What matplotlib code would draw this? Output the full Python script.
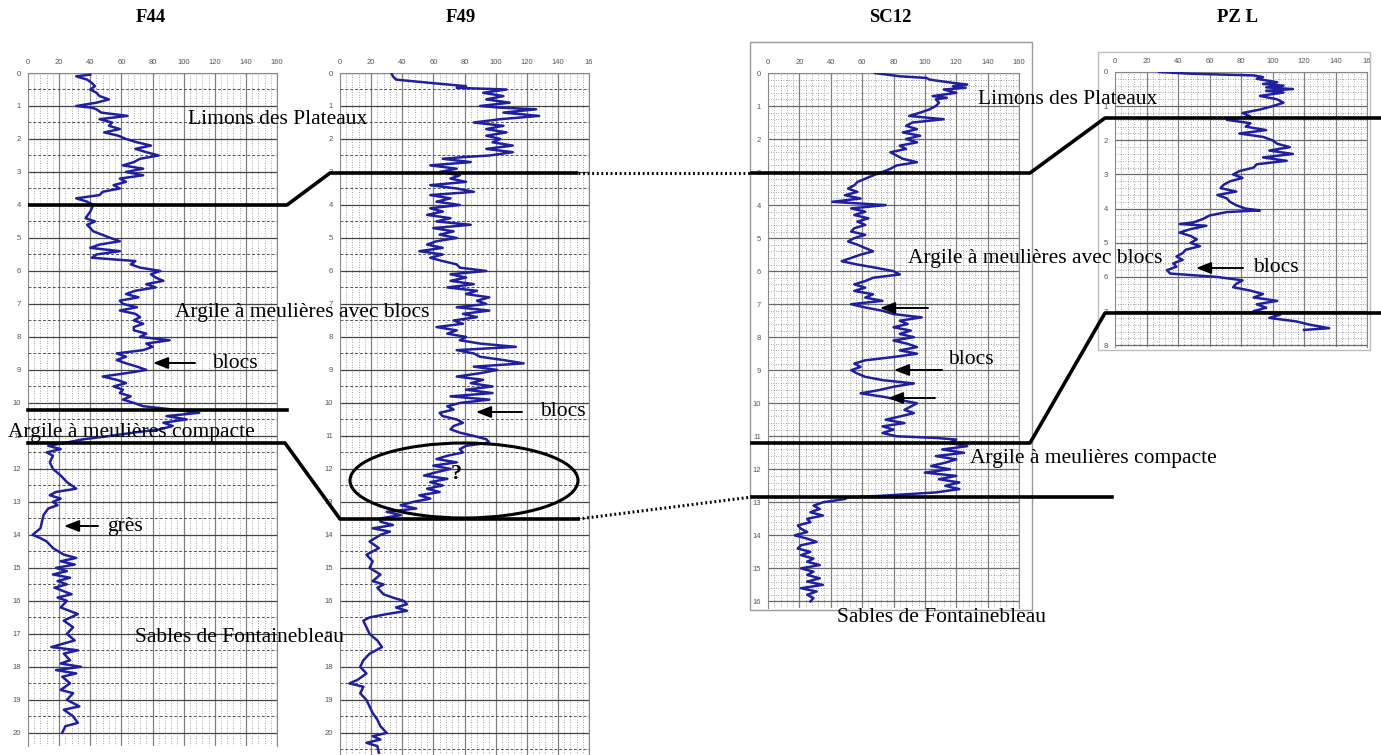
import matplotlib
matplotlib.use('Agg')
import matplotlib.pyplot as plt
from matplotlib.patches import Ellipse, Rectangle

# ---------------- DATA ----------------
f44_depth = [0.05, 0.1, 0.2, 0.3, 0.4, 0.5, 0.6, 0.7, 0.8, 0.9, 1.0, 1.05, 1.1, 1.2, 1.3, 1.4, 1.5, 1.6, 1.7, 1.8, 1.9,
             2.0, 2.1, 2.2, 2.3, 2.4, 2.5, 2.6, 2.7, 2.8, 2.9, 3.0, 3.1, 3.2, 3.3, 3.4, 3.5, 3.6, 3.7, 3.8, 3.9,
             4.0, 4.2, 4.4, 4.5, 4.6, 4.8, 5.0, 5.1, 5.2, 5.3, 5.4, 5.5, 5.6, 5.7, 5.8, 5.9,
             6.0, 6.1, 6.2, 6.3, 6.4, 6.5, 6.6, 6.7, 6.8, 6.9, 7.0, 7.1, 7.2, 7.3, 7.4, 7.5, 7.6, 7.7, 7.8, 7.9,
             8.0, 8.1, 8.2, 8.3, 8.4, 8.5, 8.6, 8.7, 8.8, 8.9, 9.0, 9.1, 9.2, 9.3, 9.4, 9.5, 9.6, 9.7, 9.8, 9.9,
             10.0, 10.1, 10.2, 10.3, 10.4, 10.5, 10.6, 10.7, 10.8, 10.9, 11.0, 11.1, 11.2, 11.3, 11.4, 11.5, 11.6, 11.8,
             12.0, 12.2, 12.4, 12.6, 12.7, 12.8, 12.9, 13.0, 13.1, 13.2, 13.4, 13.6, 13.8, 14.0, 14.1, 14.2, 14.4,
             14.6, 14.7, 14.8, 14.9, 15.0, 15.1, 15.2, 15.3, 15.4, 15.5, 15.6, 15.8, 15.9, 16.0, 16.2, 16.4, 16.6,
             16.8, 17.0, 17.2, 17.4, 17.5, 17.6, 17.8, 17.9, 18.0, 18.1, 18.2, 18.3, 18.5, 18.7, 18.8, 19.0, 19.2,
             19.3, 19.5, 19.7, 19.8, 20.0]
f44_value = [40, 31, 38, 41, 43, 40, 44, 46, 52, 44, 31, 41, 44, 47, 64, 46, 54, 52, 59, 49, 58,
             63, 70, 79, 69, 76, 84, 72, 68, 61, 74, 63, 74, 59, 63, 55, 59, 48, 46, 31, 38,
             42, 40, 37, 43, 38, 42, 53, 59, 46, 40, 59, 44, 41, 69, 66, 72,
             85, 79, 82, 87, 76, 82, 69, 63, 71, 59, 61, 70, 59, 69, 72, 68, 74, 68, 68, 76,
             72, 91, 76, 80, 74, 57, 63, 57, 63, 70, 76, 63, 48, 57, 63, 55, 61, 59, 66, 61,
             68, 74, 93, 110, 89, 102, 87, 93, 85, 68, 53, 36, 25, 13, 21, 12, 16, 14,
             16, 21, 25, 31, 18, 14, 21, 16, 19, 13, 10, 9, 8, 3, 8, 12, 16,
             23, 31, 21, 30, 18, 25, 16, 27, 19, 25, 17, 28, 19, 25, 21, 32, 23,
             29, 25, 30, 15, 32, 23, 27, 21, 34, 18, 31, 22, 27, 21, 29, 25, 33,
             23, 29, 32, 24, 22]

f49_depth = [0.0, 0.1, 0.2, 0.3, 0.4, 0.45, 0.5, 0.6, 0.7, 0.8, 0.9, 1.0, 1.05, 1.1, 1.2, 1.3, 1.4, 1.5, 1.6, 1.7,
             1.8, 1.9, 2.0, 2.1, 2.2, 2.3, 2.4, 2.5, 2.55, 2.6, 2.7, 2.8, 2.9, 3.0, 3.1, 3.2, 3.3, 3.4, 3.5, 3.6,
             3.7, 3.8, 3.9, 4.0, 4.1, 4.2, 4.3, 4.4, 4.5, 4.6, 4.7, 4.8, 4.9, 5.0, 5.1, 5.2, 5.3, 5.4, 5.5, 5.6,
             5.7, 5.8, 5.9, 6.0, 6.1, 6.2, 6.3, 6.4, 6.5, 6.6, 6.7, 6.8, 6.9, 7.0, 7.1, 7.2, 7.3, 7.4, 7.5, 7.6,
             7.7, 7.8, 7.9, 8.0, 8.1, 8.2, 8.3, 8.4, 8.5, 8.6, 8.7, 8.8, 8.9, 9.0, 9.1, 9.2, 9.3, 9.4, 9.5, 9.6,
             9.7, 9.8, 9.9, 10.0, 10.1, 10.2, 10.3, 10.4, 10.5, 10.6, 10.7, 10.8, 10.9, 11.0, 11.1, 11.2, 11.3,
             11.4, 11.5, 11.6, 11.7, 11.8, 11.9, 12.0, 12.1, 12.2, 12.3, 12.4, 12.5, 12.6, 12.7, 12.8, 12.9, 13.0,
             13.1, 13.2, 13.3, 13.4, 13.5, 13.6, 13.7, 13.8, 13.9, 14.0, 14.2, 14.4, 14.6, 14.8, 15.0, 15.2, 15.4,
             15.5, 15.6, 15.8, 15.9, 16.0, 16.1, 16.2, 16.3, 16.4, 16.5, 16.6, 16.8, 17.0, 17.2, 17.4, 17.6, 17.8,
             18.0, 18.2, 18.4, 18.5, 18.6, 18.8, 19.0, 19.2, 19.4, 19.6, 19.8, 20.0, 20.1, 20.2, 20.3, 20.4, 20.6]
f49_value = [33, 34, 36, 58, 81, 75, 107, 92, 105, 94, 109, 90, 103, 126, 105, 128, 103, 86, 105, 94,
             107, 94, 103, 98, 111, 94, 111, 96, 79, 66, 84, 58, 75, 64, 77, 71, 81, 58, 75, 86,
             58, 71, 62, 77, 58, 66, 56, 71, 62, 84, 60, 73, 64, 75, 62, 56, 66, 51, 66, 58,
             66, 75, 77, 94, 71, 81, 71, 86, 69, 88, 81, 96, 88, 94, 75, 96, 79, 88, 73, 79,
             62, 75, 69, 81, 77, 90, 113, 75, 86, 90, 105, 118, 86, 101, 90, 75, 92, 84, 98, 81,
             98, 71, 96, 77, 69, 73, 64, 66, 75, 79, 73, 71, 77, 86, 94, 96, 81,
             77, 79, 69, 62, 75, 60, 71, 62, 54, 69, 58, 66, 56, 64, 51, 58, 47,
             39, 49, 30, 39, 26, 26, 34, 21, 32, 26, 19, 25, 17, 21, 19, 26, 21,
             28, 24, 28, 34, 41, 43, 36, 43, 30, 19, 15, 17, 19, 24, 27, 19, 15,
             13, 17, 11, 6, 15, 13, 17, 19, 21, 24, 26, 30, 21, 26, 17, 24, 25]

sc12_depth = [0.0, 0.1, 0.15, 0.2, 0.3, 0.35, 0.4, 0.45, 0.5, 0.6, 0.7, 0.75, 0.8, 0.9, 1.0, 1.1, 1.2, 1.3, 1.4,
              1.5, 1.6, 1.7, 1.8, 1.9, 2.0, 2.1, 2.2, 2.3, 2.4, 2.5, 2.6, 2.7, 2.8, 2.9,
              3.0, 3.1, 3.2, 3.3, 3.4, 3.5, 3.6, 3.7, 3.8, 3.9, 4.0, 4.1, 4.2, 4.3, 4.4, 4.5, 4.6, 4.7, 4.8, 4.9,
              5.0, 5.1, 5.2, 5.3, 5.4, 5.5, 5.6, 5.7, 5.8, 5.9, 6.0, 6.1, 6.2, 6.3, 6.4, 6.5, 6.6, 6.7, 6.8, 6.9,
              7.0, 7.1, 7.2, 7.3, 7.4, 7.5, 7.6, 7.7, 7.8, 7.9, 8.0, 8.1, 8.2, 8.3, 8.4, 8.5, 8.6, 8.7, 8.8, 8.9,
              9.0, 9.1, 9.2, 9.3, 9.4, 9.5, 9.6, 9.7, 9.8, 9.9, 10.0, 10.1, 10.2, 10.3, 10.4, 10.5, 10.6, 10.7,
              10.8, 10.9, 11.0, 11.05, 11.1, 11.2, 11.3, 11.4, 11.5, 11.6, 11.7, 11.8, 11.9, 12.0, 12.1, 12.2,
              12.3, 12.4, 12.5, 12.6, 12.7, 12.8, 12.85, 12.9, 13.0, 13.1, 13.2, 13.3, 13.4, 13.5, 13.6, 13.7,
              13.8, 13.9, 14.0, 14.1, 14.2, 14.3, 14.4, 14.5, 14.6, 14.7, 14.8, 14.9, 15.0, 15.1, 15.2, 15.3,
              15.4, 15.5, 15.6, 15.7, 15.8, 15.9, 16.0]
sc12_value = [68, 84, 101, 103, 118, 127, 118, 126, 112, 120, 105, 114, 107, 109, 107, 103, 97, 90, 112,
              92, 88, 95, 86, 97, 88, 95, 84, 88, 78, 82, 86, 95, 82, 78,
              73, 67, 62, 57, 55, 51, 57, 49, 59, 41, 75, 53, 62, 55, 64, 57, 62, 55, 53, 62,
              55, 51, 57, 62, 67, 59, 53, 47, 57, 69, 80, 84, 67, 62, 55, 62, 55, 67, 62, 73,
              53, 62, 73, 80, 98, 84, 89, 80, 91, 84, 93, 80, 89, 95, 84, 95, 80, 62, 55, 59,
              53, 57, 62, 73, 93, 80, 71, 59, 73, 84, 95, 91, 87, 93, 84, 75, 87, 73,
              80, 73, 82, 107, 120, 116, 127, 111, 125, 107, 120, 113, 104, 116, 100, 120,
              109, 122, 113, 122, 107, 73, 51, 49, 35, 29, 33, 27, 35, 25, 27, 19,
              21, 25, 17, 25, 31, 21, 19, 27, 21, 29, 25, 33, 21, 29, 25, 33,
              25, 35, 21, 31, 25, 29, 27]

pzl_depth = [0.0, 0.05, 0.1, 0.15, 0.2, 0.3, 0.35, 0.4, 0.45, 0.5, 0.55, 0.6, 0.7, 0.8, 0.9, 1.0, 1.1, 1.2, 1.3,
             1.4, 1.5, 1.6, 1.7, 1.8, 1.9, 2.0, 2.1, 2.2, 2.3, 2.4, 2.5, 2.6, 2.7, 2.8, 2.9, 3.0, 3.1, 3.2, 3.3,
             3.4, 3.5, 3.6, 3.7, 3.8, 3.9, 4.0, 4.05, 4.1, 4.2, 4.3, 4.4, 4.45, 4.5, 4.6, 4.7, 4.8, 4.9, 5.0,
             5.1, 5.2, 5.3, 5.4, 5.5, 5.6, 5.7, 5.8, 5.9, 6.0, 6.05, 6.1, 6.2, 6.3, 6.4, 6.5, 6.6, 6.7, 6.8,
             6.9, 7.0, 7.1, 7.2, 7.3, 7.4, 7.5, 7.55]
pzl_value = [28, 48, 88, 94, 90, 103, 94, 107, 96, 113, 96, 107, 92, 103, 107, 100, 92, 81, 86,
             71, 86, 83, 96, 79, 94, 100, 103, 111, 98, 113, 94, 109, 90, 88, 79, 75, 81, 73, 69,
             67, 77, 65, 71, 73, 77, 83, 92, 71, 60, 56, 50, 41, 58, 48, 41, 48, 52, 48,
             54, 45, 43, 39, 43, 37, 39, 33, 35, 65, 73, 81, 77, 75, 86, 94, 88, 103, 90,
             96, 88, 105, 98, 115, 124, 136, 120]

x_ticks = [0, 20, 40, 60, 80, 100, 120, 140, 160]
x_labels_full = ['0', '20', '40', '60', '80', '100', '120', '140', '160']
x_labels_cut = ['0', '20', '40', '60', '80', '100', '120', '140', '16']

titles = ['F44', 'F49', 'SC12', 'PZ L']

# ---------------- FIGURE ----------------
W, H = 1381, 755
fig = plt.figure(figsize=(W / 100, H / 100), dpi=100)
fig.patch.set_facecolor('white')
CURVE = '#1f1fa0'
SERIF = ['Liberation Serif', 'DejaVu Serif']


def px_axes(left, top, right, bottom):
    return fig.add_axes([left / W, 1 - bottom / H, (right - left) / W, (bottom - top) / H])


def panel(ax, depth, value, ymax, nlab, xlabels, dense):
    ax.set_xlim(0, 160)
    ax.set_ylim(ymax, 0)
    ax.xaxis.tick_top()
    ax.set_xticks(x_ticks)
    ax.set_xticklabels(xlabels)
    ax.set_yticks(list(range(0, nlab + 1)))
    ax.tick_params(length=0, labelsize=5.5, labelcolor='#555', pad=5)
    for t in ax.get_xticklabels() + ax.get_yticklabels():
        t.set_fontfamily('Liberation Sans')
    for x in range(4, 160, 4):
        if x % 20:
            ax.axvline(x, color='#8a8a8a', lw=0.6, ls=(0, (1, 2)), zorder=0)
    for x in range(20, 161, 20):
        ax.axvline(x, color='#808080', lw=0.9, zorder=0.5)
    if dense:
        k = 0.2
        while k < ymax:
            if abs(k - round(k)) > 1e-6:
                ax.axhline(k, color='#8a8a8a', lw=0.6, ls=(0, (1, 2)), zorder=0)
            k += 0.2
        for d in range(0, int(ymax) + 1):
            ax.axhline(d, color='#6a6a6a', lw=0.9, zorder=0.5)
    else:
        for d in range(0, int(ymax) + 1):
            ax.axhline(d, color='#444444', lw=0.9, zorder=0.5)
            if d + 0.5 < ymax:
                ax.axhline(d + 0.5, color='#555555', lw=0.7, ls=(0, (3, 2)), zorder=0.5)
    for s in ax.spines.values():
        s.set_color('#888888')
        s.set_linewidth(0.8)
    ax.spines['bottom'].set_visible(False)
    ax.plot(value, depth, color=CURVE, lw=1.8, zorder=3)


ax1 = px_axes(28, 73, 277, 746)
panel(ax1, f44_depth, f44_value, 20.4, 20, x_labels_full, False)
ax2 = px_axes(340, 73, 589, 755)
panel(ax2, f49_depth, f49_value, 20.67, 20, x_labels_cut, False)
ax3 = px_axes(768, 73, 1019, 608)
panel(ax3, sc12_depth, sc12_value, 16.2, 16, x_labels_full, True)
ax4 = px_axes(1115, 72, 1367, 347)
panel(ax4, pzl_depth, pzl_value, 8.05, 8, x_labels_cut, True)

# ---------------- OVERLAY ----------------
ov = fig.add_axes([0, 0, 1, 1], zorder=10)
ov.set_xlim(0, W)
ov.set_ylim(H, 0)
ov.axis('off')
ov.patch.set_alpha(0)

ov.add_patch(Rectangle((750, 42), 282, 568, fill=False, ec='#9a9a9a', lw=1))
ov.add_patch(Rectangle((1098, 52), 272, 298, fill=False, ec='#bdbdbd', lw=1))

for cx, t in zip([151, 461, 890, 1238], titles):
    ov.text(cx, 17, t, ha='center', va='center', fontsize=13.5, fontweight='bold', family=SERIF)

LW = 2.6
DOT = (0, (0.6, 0.9))
ov.plot([28, 287, 330, 578], [205, 205, 173, 173], 'k', lw=LW, solid_capstyle='butt')
ov.plot([578, 752], [173, 173], 'k', lw=2.2, ls=DOT)
ov.plot([752, 1030, 1105, 1381], [173, 173, 118, 118], 'k', lw=LW)
ov.plot([28, 287], [410, 410], 'k', lw=LW)
ov.plot([28, 285, 340, 578], [443, 443, 519, 519], 'k', lw=LW)
ov.plot([578, 752], [519, 497], 'k', lw=2.2, ls=DOT)
ov.plot([752, 1112], [497, 497], 'k', lw=LW)
ov.plot([752, 1030, 1105, 1381], [443, 443, 313, 313], 'k', lw=LW)

ov.add_patch(Ellipse((464, 480.5), 228, 75, fill=False, ec='k', lw=2.2))
ov.text(456, 474, '?', ha='center', va='center', fontsize=16, fontweight='bold', family=SERIF)

FS = 15.5
labels = [
    (188, 120, 'Limons des Plateaux'),
    (175, 313, 'Argile à meulières avec blocs'),
    (212, 363, 'blocs'),
    (8, 432, 'Argile à meulières compacte'),
    (107, 527, 'grès'),
    (135, 638, 'Sables de Fontainebleau'),
    (540, 412, 'blocs'),
    (978, 100, 'Limons des Plateaux'),
    (908, 258, 'Argile à meulières avec blocs'),
    (948, 360, 'blocs'),
    (970, 458, 'Argile à meulières compacte'),
    (837, 617, 'Sables de Fontainebleau'),
    (1253, 267, 'blocs'),
]
for x, y, s in labels:
    ov.text(x, y, s, ha='left', va='center', fontsize=FS, family=SERIF, zorder=5)

arrows = [
    ((195, 363), (153, 363)),
    ((98, 526), (64, 526)),
    ((522, 412), (476, 412)),
    ((928, 308), (880, 308)),
    ((942, 370), (894, 370)),
    ((935, 398), (888, 398)),
    ((1243, 268), (1196, 268)),
]
for tail, head in arrows:
    ov.annotate('', xy=head, xytext=tail,
                arrowprops=dict(arrowstyle='-|>,head_length=0.9,head_width=0.35', color='k', lw=1.4,
                                shrinkA=0, shrinkB=0))

fig.savefig('out.png', dpi=100, facecolor='white')
